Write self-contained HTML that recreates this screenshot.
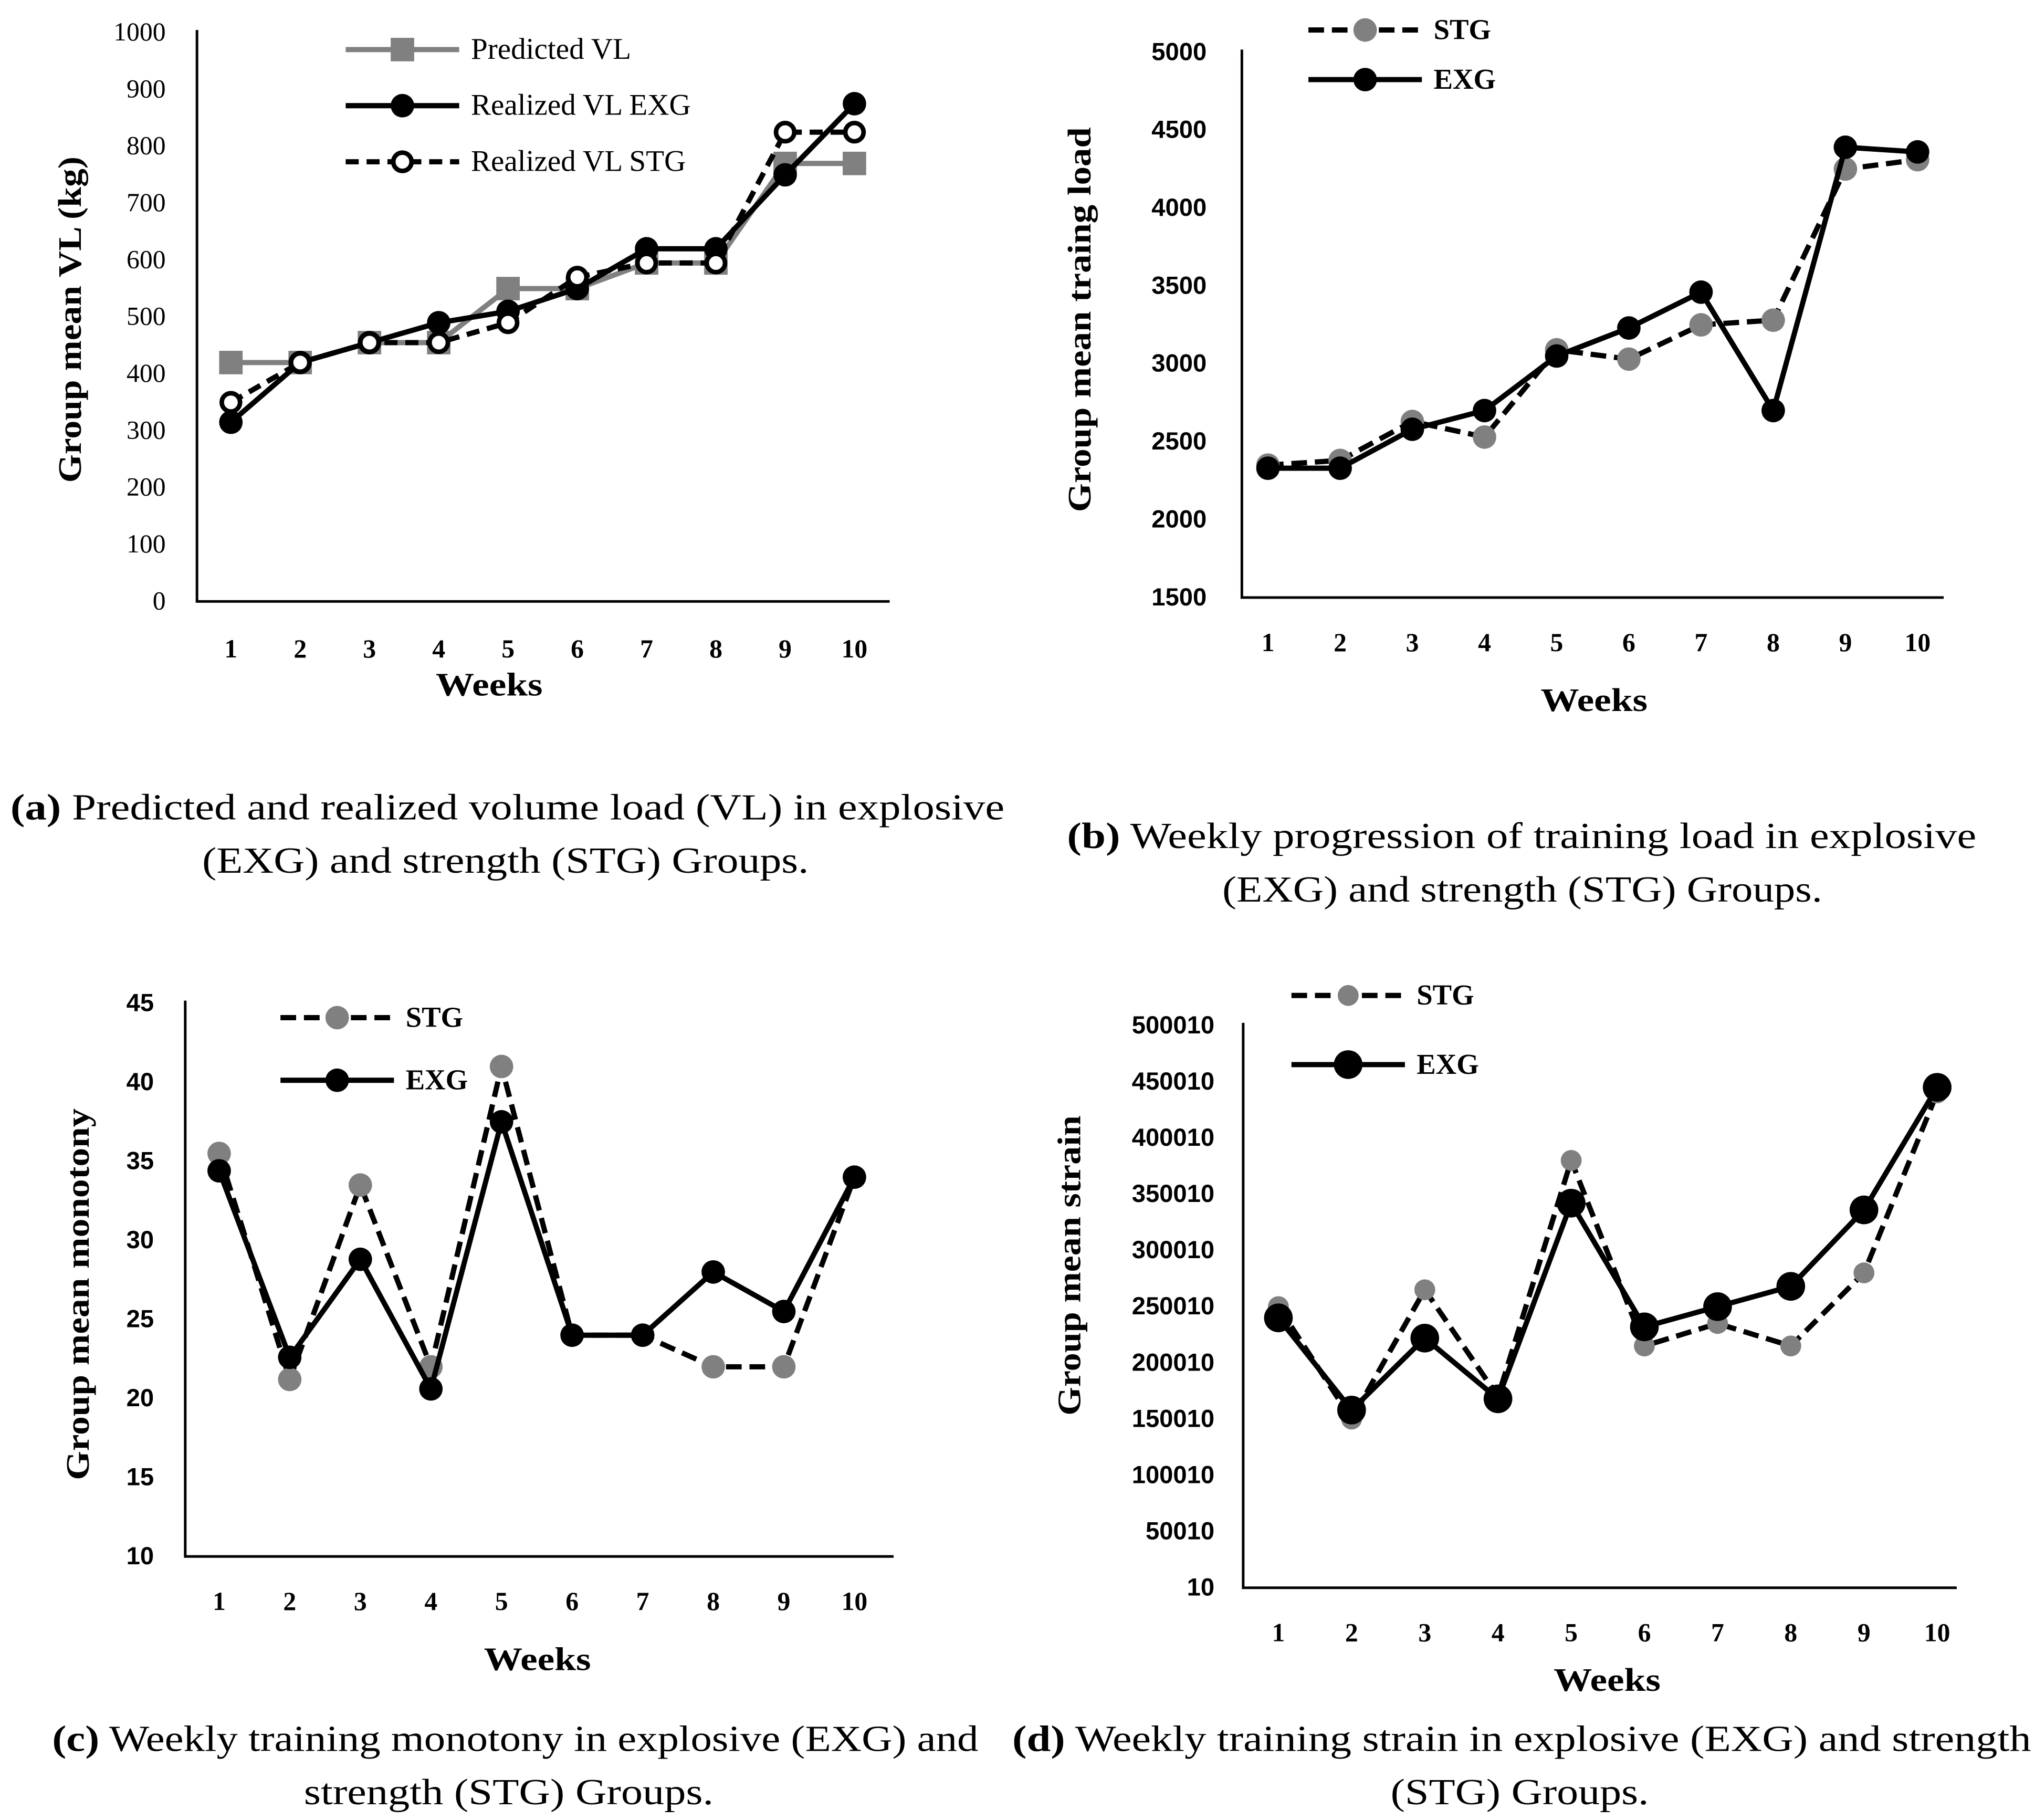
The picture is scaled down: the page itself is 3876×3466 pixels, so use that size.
<!DOCTYPE html>
<html><head><meta charset="utf-8"><style>
html,body{margin:0;padding:0;background:#fff;}
svg{display:block;}
.serif{font-family:"Liberation Serif",serif;}
.sans{font-family:"Liberation Sans",sans-serif;}
</style></head>
<body>
<svg id="s" width="3876" height="3466" viewBox="0 0 1560 1395" preserveAspectRatio="none" xmlns="http://www.w3.org/2000/svg">
<rect width="1560" height="1395" fill="#fff"/>
<g id="root"></g>
</svg>
<script>
// ---- data ----
const weeks = [1,2,3,4,5,6,7,8,9,10];
const aPredicted = [420,420,455,455,550,550,595,595,770,770];
const aExg = [315,420,455,490,510,550,620,620,750,875];
const aStg = [350,420,455,455,490,570,595,595,825,825];
const aTicks = [0,100,200,300,400,500,600,700,800,900,1000];
const bStg = [2350,2380,2630,2530,3090,3030,3250,3280,4250,4310];
const bExg = [2330,2330,2580,2700,3050,3230,3460,2700,4390,4360];
const bTicks = [1500,2000,2500,3000,3500,4000,4500,5000];
const cStg = [35.5,21.2,33.5,22,41,24,24,22,22,34];
const cExg = [34.4,22.6,28.8,20.6,37.5,24,24,28,25.5,34];
const cTicks = [10,15,20,25,30,35,40,45];
const dStg = [250010,150010,265010,170010,380010,215010,235010,215010,280010,440010];
const dExg = [240010,158010,222010,168010,342010,232010,250010,268010,336010,445010];
const dTicks = [10,50010,100010,150010,200010,250010,300010,350010,400010,450010,500010];

const NS = "http://www.w3.org/2000/svg";
const root = document.getElementById('root');
function el(tag, attrs, parent, text){
  const e = document.createElementNS(NS, tag);
  for (const k in attrs) e.setAttribute(k, attrs[k]);
  if (text !== undefined) e.textContent = text;
  (parent||root).appendChild(e);
  return e;
}

function chart(cfg){
  const g = el('g', {});
  
  
  const xs = w => cfg.x1 + (w-1)*(cfg.x10-cfg.x1)/9;
  const ys = v => cfg.yB - (v-cfg.min)*(cfg.yB-cfg.yT)/(cfg.max-cfg.min);
  const ax = el('path', {d:`M${cfg.ax} ${cfg.yT-2} L${cfg.ax} ${cfg.yB} L${cfg.axR} ${cfg.yB}`, fill:'none', stroke:'#000', 'stroke-width':2}, g);
  
  
  cfg.ticks.forEach(t=>{
    const tx = el('text', {x:cfg.ax-cfg.tickGap, y:ys(t)+6, 'text-anchor':'end', 'font-size':cfg.tfs, 'font-weight':cfg.tfw, class:cfg.tfont}, g, String(t));
    
    
  });
  weeks.forEach(w=>{
    const tx = el('text', {x:xs(w), y:cfg.xly, 'text-anchor':'middle', 'font-size':20, 'font-weight':'bold', class:'serif'}, g, String(w));
    
    
  });
  const wt = el('text', {x:cfg.wx, y:cfg.wy, 'text-anchor':'middle', 'font-size':25, 'font-weight':'bold', class:'serif', textLength:82, lengthAdjust:'spacingAndGlyphs'}, g, 'Weeks');
  
  
  const yt = el('text', {x:0, y:0, transform:`translate(${cfg.tx},${cfg.ty}) rotate(-90)`, 'text-anchor':'middle', 'font-size':25, 'font-weight':'bold', class:'serif', textLength:cfg.tlen, lengthAdjust:'spacingAndGlyphs'}, g, cfg.ytitle);
  
  
  cfg.series.forEach(s=>{
    const pts = s.data.map((v,i)=>xs(weeks[i])+','+ys(v)).join(' ');
    const pl = el('polyline', {points:pts, fill:'none', stroke:s.color, 'stroke-width':s.w||4, 'stroke-dasharray':s.dash||'none'}, g);
    
    
    s.data.forEach((v,i)=>{
      const m = marker(g, s, xs(weeks[i]), ys(v));
      
      
    });
    const ly = s.ly;
    const ll = el('line', {x1:cfg.lx1, x2:cfg.lx2, y1:ly, y2:ly, stroke:s.color, 'stroke-width':s.w||4, 'stroke-dasharray':s.dash||'none'}, g);
    
    
    const lm = marker(g, s, (cfg.lx1+cfg.lx2)/2, ly);
    
    
    const lt = el('text', {x:cfg.lx2+9, y:ly+7, 'font-size':cfg.lfs, 'font-weight':cfg.lfw, class:'serif'}, g, s.label);
    
    
  });
  cfg.caption.forEach((line,i)=>{
    const t = el('text', {x:line[2], y:cfg.cy+i*41, 'font-size':28, class:'serif', textLength:line[3]-line[2], lengthAdjust:'spacingAndGlyphs'}, g);
    
    
    if (line[0]) el('tspan', {'font-weight':'bold'}, t, line[0]);
    el('tspan', {}, t, line[1]);
  });
}
function marker(g, s, x, y){
  if (s.m === 'square') return el('rect', {x:x-9, y:y-9, width:18, height:18, fill:s.mc}, g);
  if (s.m === 'open') return el('circle', {cx:x, cy:y, r:7, fill:'#fff', stroke:'#000', 'stroke-width':3.5}, g);
  return el('circle', {cx:x, cy:y, r:s.r||9, fill:s.mc}, g);
}

chart({name:'chart-a', ax:151, axR:682, yT:25, yB:461, min:0, max:1000, x1:177, x10:655,
  ticks:aTicks, tickGap:24, tfs:20, tfw:'normal', tfont:'serif', xly:504, wx:375, wy:533,
  tx:62, ty:245, tlen:250, ytitle:'Group mean VL (kg)', lx1:265, lx2:352, lfs:23, lfw:'normal',
  series:[
    {key:'predicted-vl', label:'Predicted VL', data:aPredicted, color:'#808080', m:'square', mc:'#808080', ly:38},
    {key:'realized-vl-exg', label:'Realized VL EXG', data:aExg, color:'#000', m:'circle', mc:'#000', ly:81},
    {key:'realized-vl-stg', label:'Realized VL STG', data:aStg, color:'#000', dash:'10 6', m:'open', ly:124}],
  cy:628, caption:[['(a)',' Predicted and realized volume load (VL) in explosive',8,770],['','(EXG) and strength (STG) Groups.',155,620]]});

chart({name:'chart-b', ax:952, axR:1490, yT:40, yB:458, min:1500, max:5000, x1:972, x10:1470,
  ticks:bTicks, tickGap:27, tfs:19, tfw:'bold', tfont:'sans', xly:499, wx:1222, wy:545,
  tx:836, ty:245, tlen:295, ytitle:'Group mean traing load', lx1:1003, lx2:1090, lfs:22, lfw:'bold',
  series:[
    {key:'stg', label:'STG', data:bStg, color:'#000', dash:'12 6', m:'circle', mc:'#808080', ly:23},
    {key:'exg', label:'EXG', data:bExg, color:'#000', m:'circle', mc:'#000', ly:61}],
  cy:650, caption:[['(b)',' Weekly progression of training load in explosive',818,1515],['','(EXG) and strength (STG) Groups.',937,1397]]});

chart({name:'chart-c', ax:142, axR:685, yT:769, yB:1193, min:10, max:45, x1:168, x10:655,
  ticks:cTicks, tickGap:24, tfs:19, tfw:'bold', tfont:'sans', xly:1234, wx:412, wy:1280,
  tx:68, ty:992, tlen:285, ytitle:'Group mean monotony', lx1:215, lx2:302, lfs:22, lfw:'bold',
  series:[
    {key:'stg', label:'STG', data:cStg, color:'#000', dash:'12 6', m:'circle', mc:'#808080', ly:780},
    {key:'exg', label:'EXG', data:cExg, color:'#000', m:'circle', mc:'#000', ly:828}],
  cy:1342, caption:[['(c)',' Weekly training monotony in explosive (EXG) and',40,750],['','strength (STG) Groups.',233,547]]});

chart({name:'chart-d', ax:953, axR:1500, yT:786, yB:1217, min:10, max:500010, x1:980, x10:1485,
  ticks:dTicks, tickGap:22, tfs:19, tfw:'bold', tfont:'sans', xly:1258, wx:1232, wy:1296,
  tx:828, ty:970, tlen:230, ytitle:'Group mean strain', lx1:990, lx2:1077, lfs:22, lfw:'bold',
  series:[
    {key:'stg', label:'STG', data:dStg, color:'#000', dash:'12 6', m:'circle', mc:'#808080', r:8, ly:763},
    {key:'exg', label:'EXG', data:dExg, color:'#000', m:'circle', mc:'#000', r:11, ly:816}],
  cy:1342, caption:[['(d)',' Weekly training strain in explosive (EXG) and strength',776,1557],['','(STG) Groups.',1066,1264]]});
</script>
</body></html>
